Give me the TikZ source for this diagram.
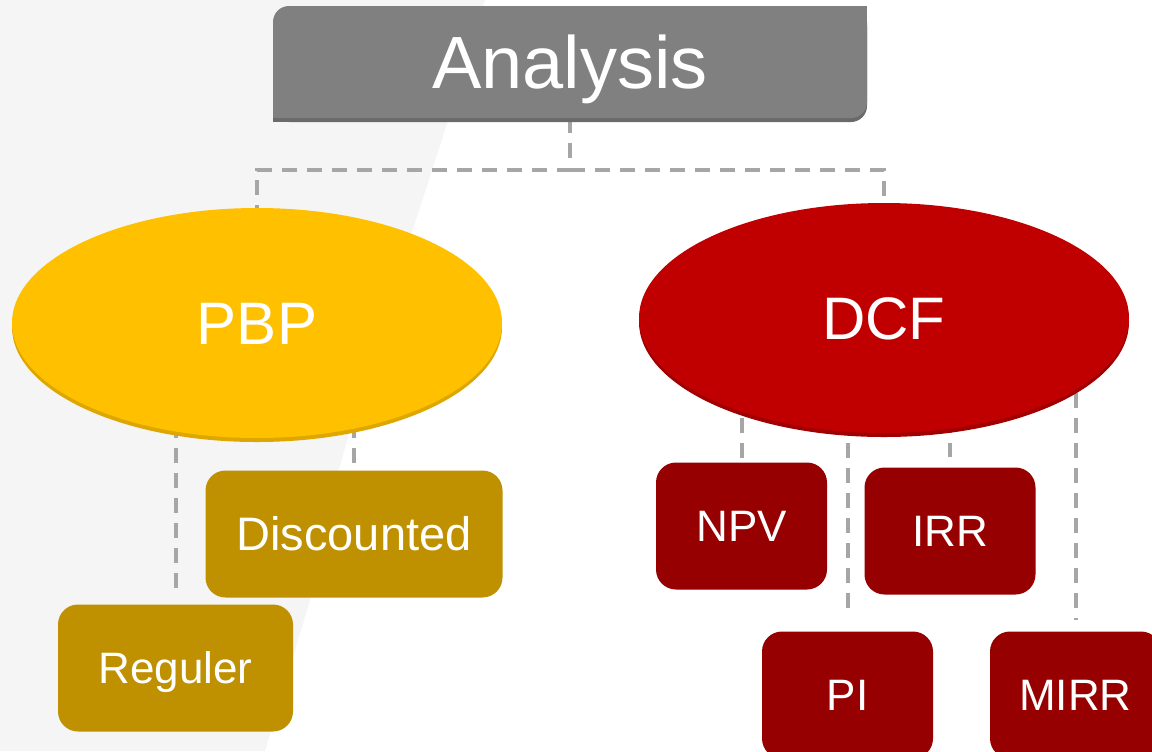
\documentclass[tikz,border=0pt]{standalone}
\usepackage{fontspec}
\setmainfont{Liberation Sans}
\usepackage{tikz}
\usetikzlibrary{shapes.geometric, shadows, backgrounds, positioning, calc}
\definecolor{anagray}{HTML}{808080}
\definecolor{anadark}{HTML}{6A6A6A}
\definecolor{pbpyellow}{HTML}{FFC000}
\definecolor{pbpdark}{HTML}{DDA600}
\definecolor{dcfred}{HTML}{C00000}
\definecolor{dcfdark}{HTML}{A00000}
\definecolor{goldbox}{HTML}{BF9000}
\definecolor{redbox}{HTML}{960000}
\definecolor{lnkgray}{HTML}{A6A6A6}
\definecolor{bggray}{HTML}{F5F5F5}
\tikzset{
	oval/.style={
		ellipse,
		inner sep=0pt,
		minimum width=245pt,
		minimum height=115pt,
		text=white,
		text height=21.5pt,
		text depth=0pt,
		font=\fontsize{30}{36}\selectfont
	},
	leaf/.style={
		rectangle,
		rounded corners=10pt,
		inner sep=0pt,
		minimum width=85.5pt,
		minimum height=63.5pt,
		text=white,
		text height=15.8pt,
		text depth=0pt,
		font=\fontsize{22}{26}\selectfont
	},
	link/.style={
		draw=lnkgray,
		line width=2pt,
		dash pattern=on 7.5pt off 5pt
	}
}

\begin{document}
\begin{tikzpicture}[x=0.5pt, y=-0.5pt]
		
		\useasboundingbox (0,0) rectangle (1152,751);
		\begin{scope}[on background layer]
			\fill[white] (0,0) rectangle (1152,751);
			\fill[bggray] (0,0) -- (485,0) .. controls (420,220) and (330,460) .. (310,600) -- (265,751) -- (0,751) -- cycle;
		\end{scope}
		\clip (0,0) rectangle (1152,751);
		
		% Titre
		\node (ana) [rectangle, rounded corners=8pt, fill=anagray, minimum width=297pt, minimum height=56pt, text=white, text height=26.5pt, text depth=0pt, font=\fontsize{37}{44}\selectfont, drop shadow={shadow xshift=0pt, shadow yshift=-2pt, fill=anadark, opacity=1}] at (570,62) {Analysis};
		\fill[anagray] (ana.north east) rectangle ++(-10pt,-10pt);
		\fill[anagray] (ana.south west) rectangle ++(10pt,10pt);
		\fill[anadark] (ana.south west) rectangle ++(10pt,-2pt);
		\coordinate (bus) at (570,170);
		
		% Methodes
		\node (pbp) [oval, fill=pbpyellow, drop shadow={shadow xshift=0pt, shadow yshift=-2pt, fill=pbpdark, opacity=1}] at (257,323) {PBP};
		\node (dcf) [oval, fill=dcfred, drop shadow={shadow xshift=0pt, shadow yshift=-2pt, fill=dcfdark, opacity=1}] at (884,318) {DCF};
		
		% PBP
		\node (disc) [leaf, fill=goldbox, minimum width=148.5pt, text height=16.8pt, font=\fontsize{23.5}{28}\selectfont] at (354,534) {Discounted};
		\node (reg) [leaf, fill=goldbox, minimum width=117.5pt] at (175.5,668) {Reguler};
		
		% DCF
		\node (npv) [leaf, fill=redbox] at (741.5,526) {NPV};
		\node (irr) [leaf, fill=redbox] at (950,531) {IRR};
		\node (pi) [leaf, fill=redbox] at (847.5,695) {PI};
		\node (mirr) [leaf, fill=redbox] at (1075.5,695) {MIRR};
		
		% Liaisons
		\begin{scope}[on background layer]
			\draw[link] (ana.south) -- (bus) -| (pbp.north);
			\draw[link] (bus) -| (dcf.north);
			\draw[link] (pbp.center -| disc.north) -- (disc.north);
			\draw[link, shorten >=3.5pt] (pbp.center -| reg.north) -- (reg.north);
			\draw[link] (dcf.center -| npv.north) -- (npv.north);
			\draw[link, shorten >=5pt] (dcf.center -| irr.north) -- (irr.north);
			\draw[link, shorten >=8pt] (dcf.center -| pi.north) -- (pi.north);
			\draw[link, shorten >=5.5pt] (dcf.center -| mirr.north) -- (mirr.north);
		\end{scope}
		
	\end{tikzpicture}
\end{document}
